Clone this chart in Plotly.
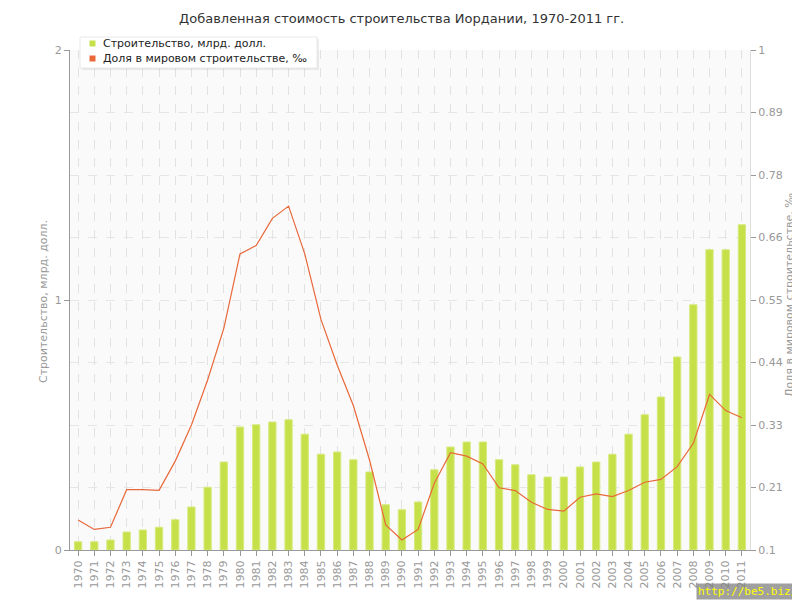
import plotly.graph_objects as go

years = [str(y) for y in range(1970, 2012)]
construction = [0.033, 0.033, 0.040, 0.072, 0.080, 0.091, 0.121, 0.172, 0.251, 0.352,
                0.492, 0.501, 0.512, 0.521, 0.463, 0.383, 0.392, 0.361, 0.312, 0.181,
                0.161, 0.192, 0.321, 0.412, 0.432, 0.432, 0.361, 0.341, 0.301, 0.292,
                0.292, 0.332, 0.352, 0.383, 0.463, 0.541, 0.612, 0.772, 0.981, 1.201,
                1.201, 1.301]
share = [0.154, 0.137, 0.141, 0.2085, 0.2085, 0.2074, 0.260, 0.325, 0.406, 0.499,
         0.633, 0.648, 0.697, 0.719, 0.633, 0.515, 0.433, 0.360, 0.262, 0.145,
         0.118, 0.137, 0.220, 0.275, 0.269, 0.255, 0.212, 0.207, 0.186, 0.173,
         0.170, 0.195, 0.201, 0.196, 0.207, 0.222, 0.227, 0.250, 0.292, 0.380,
         0.351, 0.338]
right_tickvals = [0.1, 0.2125, 0.325, 0.4375, 0.55, 0.6625, 0.775, 0.8875, 1.0]
right_ticktext = ["0.1", "0.21", "0.33", "0.44", "0.55", "0.66", "0.78", "0.89", "1"]
series_names = ["Строительство, млрд. долл.", "Доля в мировом строительстве, ‰"]

GREEN = "#c6e04a"
ORANGE = "#e8683a"
FONT = "DejaVu Sans"

# page has an 8px body margin: figure is 792x592 placed at (8, 8)
W, H = 792, 592
L, T, PW, PH = 62, 42, 680, 500


def px(x):
    return (x - L) / PW


def py(y):
    return (T + PH - y) / PH


fig = go.Figure()
fig.add_trace(go.Bar(x=years, y=construction, width=0.45, name=series_names[0],
                     marker=dict(color=GREEN, line=dict(color="#d6ea7e", width=1)),
                     showlegend=False, yaxis="y"))
fig.add_trace(go.Scatter(x=years, y=share, mode="lines", name=series_names[1],
                         line=dict(color=ORANGE, width=1.2),
                         showlegend=False, yaxis="y2"))

fig.update_layout(
    width=W, height=H,
    margin=dict(l=L, r=W - L - PW, t=T, b=H - T - PH, autoexpand=False),
    paper_bgcolor="white", plot_bgcolor="#fafafa",
    font=dict(family=FONT, size=11, color="#999999"),
    title=dict(text="Добавленная стоимость строительства Иордании, 1970-2011 гг.",
               x=0.497, xanchor="center", y=1 - 10 / H, yanchor="middle",
               font=dict(family=FONT, size=13, color="#333333")),
    bargap=0.5,
    showlegend=False,
    xaxis=dict(type="category", showline=True, linecolor="#999999", linewidth=1,
               ticks="outside", ticklen=5, tickcolor="#999999",
               tickangle=-90, tickfont=dict(size=11, color="#999999"),
               showgrid=True, gridcolor="#e2e2e2", griddash="dash", gridwidth=1,
               layer="above traces", range=[-0.5, 41.5], automargin=False),
    yaxis=dict(range=[0, 2], tickvals=[0, 1, 2], ticktext=["0", "1", "2"],
               showline=True, linecolor="#999999", linewidth=1,
               ticks="outside", ticklen=5, tickcolor="#999999",
               showgrid=True, gridcolor="#e6e6e6", griddash="dash",
               minor=dict(dtick=0.25, showgrid=True, gridcolor="#e6e6e6", griddash="dash", ticks=""),
               zeroline=False, automargin=False,
               tickfont=dict(size=11, color="#999999")),
    yaxis2=dict(range=[0.1, 1], overlaying="y", side="right",
                tickvals=right_tickvals, ticktext=right_ticktext,
                showline=True, linecolor="#dddddd", linewidth=1,
                ticks="outside", ticklen=5, tickcolor="#999999",
                showgrid=False, zeroline=False, automargin=False,
                tickfont=dict(size=11, color="#999999")),
)

# legend box (figure pixel coords: x 72-309, y 29-60)
fig.add_shape(type="rect", xref="paper", yref="paper", layer="above",
              x0=px(74), x1=px(311), y0=py(62), y1=py(31),
              line=dict(width=0), fillcolor="rgba(0,0,0,0.07)")
fig.add_shape(type="rect", xref="paper", yref="paper", layer="above",
              x0=px(72), x1=px(309), y0=py(60), y1=py(29),
              line=dict(color="#e8e8e8", width=1), fillcolor="white", opacity=1)
for i, (name, col) in enumerate(zip(series_names, [GREEN, ORANGE])):
    cy = 35.5 + 15 * i
    fig.add_shape(type="rect", xref="paper", yref="paper", layer="above",
                  x0=px(81.5), x1=px(87.5), y0=py(cy + 3), y1=py(cy - 3),
                  line=dict(width=0), fillcolor=col)
    fig.add_annotation(text=name, xref="paper", yref="paper",
                       x=px(93), y=py(cy), xanchor="left", yanchor="middle",
                       showarrow=False,
                       font=dict(family=FONT, size=11, color="#222222"))

fig.add_annotation(text="Строительство, млрд. долл.", xref="paper", yref="paper",
                   x=px(35), y=py(294), textangle=-90, showarrow=False,
                   xanchor="center", yanchor="middle",
                   font=dict(family=FONT, size=11, color="#999999"))
fig.add_annotation(text="Доля в мировом строительстве, ‰", xref="paper", yref="paper",
                   x=px(781), y=py(287), textangle=-90, showarrow=False,
                   xanchor="center", yanchor="middle",
                   font=dict(family=FONT, size=11, color="#999999"))
fig.add_annotation(text="http://be5.biz/", xref="paper", yref="paper",
                   x=px(W - 1), y=py(H), xanchor="right", yanchor="bottom",
                   showarrow=False, bgcolor="rgba(128,128,128,0.75)",
                   font=dict(family="DejaVu Sans Mono", size=11, color="#ffff00"), borderpad=1)

fig.write_html("out.html")
